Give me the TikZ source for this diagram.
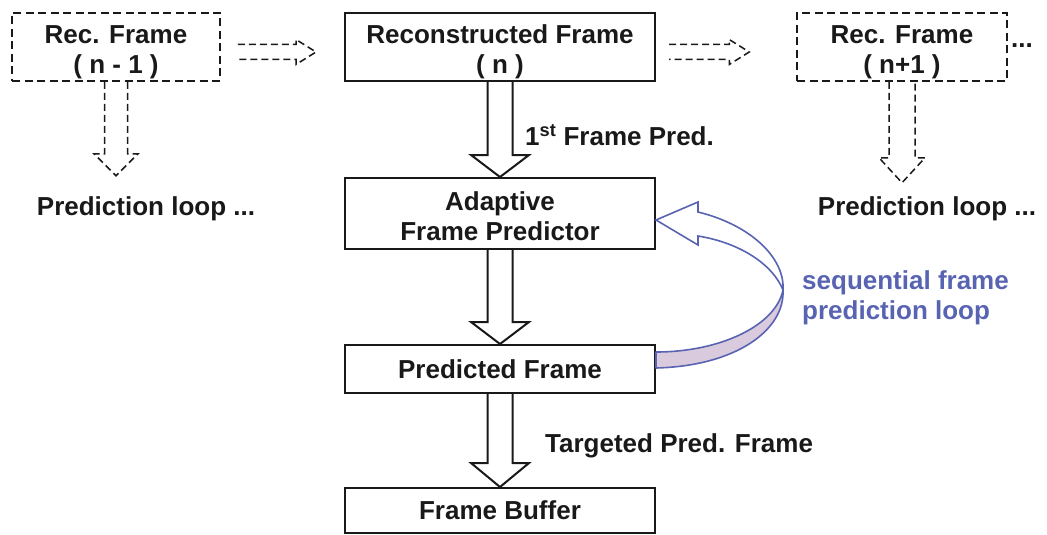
\documentclass[tikz,border=0pt]{standalone}
\usepackage{fontspec}
\setmainfont{Liberation Sans}
\usetikzlibrary{calc}

\definecolor{ink}{RGB}{25,25,25}
\definecolor{loopblue}{RGB}{88,100,178}
\definecolor{loopfill}{RGB}{218,202,222}

% hollow block arrow pointing down: [style]{from}{to}{shaft half width}{head half width}{head length}
\newcommand{\blockdown}[6][]{%
  \draw[#1] let \p1=(#2), \p2=(#3) in
    (\x1-#4,\y1) -- (\x1-#4,\y2+#6) -- (\x1-#5,\y2+#6) -- (\x1,\y2)
    -- (\x1+#5,\y2+#6) -- (\x1+#4,\y2+#6) -- (\x1+#4,\y1);}

% hollow block arrow pointing right: [style]{from}{to}{shaft half width}{head half width}{head length}
\newcommand{\blockright}[6][]{%
  \draw[#1] let \p1=(#2), \p2=(#3) in
    (\x1,\y1+#4) -- (\x2-#6,\y1+#4) -- (\x2-#6,\y1+#5) -- (\x2,\y1)
    -- (\x2-#6,\y1-#5) -- (\x2-#6,\y1-#4) -- (\x1,\y1-#4);}

% invisible strut that lowers two-line box texts a little
\newcommand{\lowerstrut}[1]{\rule{0pt}{#1}}

\tikzset{
  txt/.style={font=\fontsize{26}{30}\selectfont\bfseries, text=ink, inner sep=0pt},
  solidbox/.style={txt, draw=ink, line width=2pt, align=center, minimum width=310pt},
  dashbox/.style={txt, draw=ink, line width=1.5pt, dash pattern=on 8pt off 4.5pt,
                  align=center},
  solidarrow/.style={draw=ink, line width=2pt, line join=miter},
  dasharrow/.style={draw=ink, line width=1.5pt, dash pattern=on 7pt off 4pt},
  bluetxt/.style={txt, text=loopblue, align=left},
}

\begin{document}
\begin{tikzpicture}[x=1pt, y=-1pt]
\useasboundingbox (0,0) rectangle (1047,535);

% main column
\node[solidbox, minimum height=68pt] (recn) at (500,47)
  {\lowerstrut{28pt}Reconstructed Frame\\( n )};
\node[solidbox, minimum height=71pt] (afp) at (500,213.5)
  {\lowerstrut{24pt}Adaptive\\Frame Predictor};
\node[solidbox, minimum height=48pt] (pred) at (500,369)
  {Predicted Frame};
\node[solidbox, minimum height=45pt] (buf) at (500,510.5)
  {Frame Buffer};

% neighbouring reconstructed frames
\node[dashbox, minimum width=208pt, minimum height=68pt] (recl) at (116,47)
  {\lowerstrut{28pt}Rec. Frame\\( n - 1 )};
\node[dashbox, minimum width=210pt, minimum height=68pt] (recr) at (902,47)
  {\lowerstrut{28pt}Rec. Frame\\( n+1 )};
\node[txt] (more) at (1022,46) {...};

\node[txt] (loopl) at (146,209) {Prediction loop ...};
\node[txt] (loopr) at (927,209) {Prediction loop ...};

% labels
\node[txt, anchor=west] (firstlbl) at (525,135) {1\textsuperscript{st} Frame Pred.};
\node[txt, anchor=west] (targlbl) at (545,446) {Targeted Pred. Frame};
\node[bluetxt, anchor=west] (seqlbl) at (802,298)
  {sequential frame\\prediction loop};

% hollow arrows of the main column
\blockdown[solidarrow]{recn.south}{afp.north}{12.5pt}{29pt}{22pt}
\blockdown[solidarrow]{afp.south}{pred.north}{12.5pt}{29pt}{22pt}
\blockdown[solidarrow]{pred.south}{buf.north}{12.5pt}{29pt}{24pt}

% dashed arrows towards neighbouring frames
\coordinate (la) at ($(recl.east)+(17,5)$);
\coordinate (lb) at ($(recn.west)+(-28,5)$);
\blockright[dasharrow]{la}{lb}{7.5pt}{12.5pt}{20pt}
\coordinate (ra) at ($(recn.east)+(13,5)$);
\coordinate (rb) at ($(recr.west)+(-47,5)$);
\blockright[dasharrow]{ra}{rb}{7.5pt}{12.5pt}{20pt}

\coordinate (ltip) at ($(recl.south)+(0,94)$);
\blockdown[dasharrow]{recl.south}{ltip}{11.5pt}{22pt}{22pt}
\coordinate (rtip) at ($(recr.south)+(0,101)$);
\blockdown[dasharrow]{recr.south}{rtip}{13pt}{23pt}{25pt}

% curved loop arrow from the predicted frame back to the predictor
\coordinate (T) at ($(afp.east)+(0,6.5)$);
\coordinate (B) at ($(pred.east)+(0,-9)$);
% lower, tinted part of the ribbon
\filldraw[draw=loopblue, fill=loopfill, line width=1.6pt, line join=round]
  ($(T)+(127,70)$) .. controls ($(T)+(120,105)$) and ($(T)+(65,132)$) .. ($(B)+(0,-8)$)
  -- ($(B)+(0,8)$)
  .. controls ($(B)+(80,6)$) and ($(T)+(129,110)$) .. ($(T)+(127,70)$);
% upper part of the ribbon with the head
\filldraw[draw=loopblue, fill=white, line width=1.6pt, line join=miter]
  (T) -- ($(T)+(42,-18)$) -- ($(T)+(42,-8)$)
  .. controls ($(T)+(95,5)$) and ($(T)+(129,38)$) .. ($(T)+(127,70)$)
  .. controls ($(T)+(117,45)$) and ($(T)+(85,23)$) .. ($(T)+(42,16)$)
  -- ($(T)+(42,25)$) -- cycle;
\end{tikzpicture}
\end{document}
